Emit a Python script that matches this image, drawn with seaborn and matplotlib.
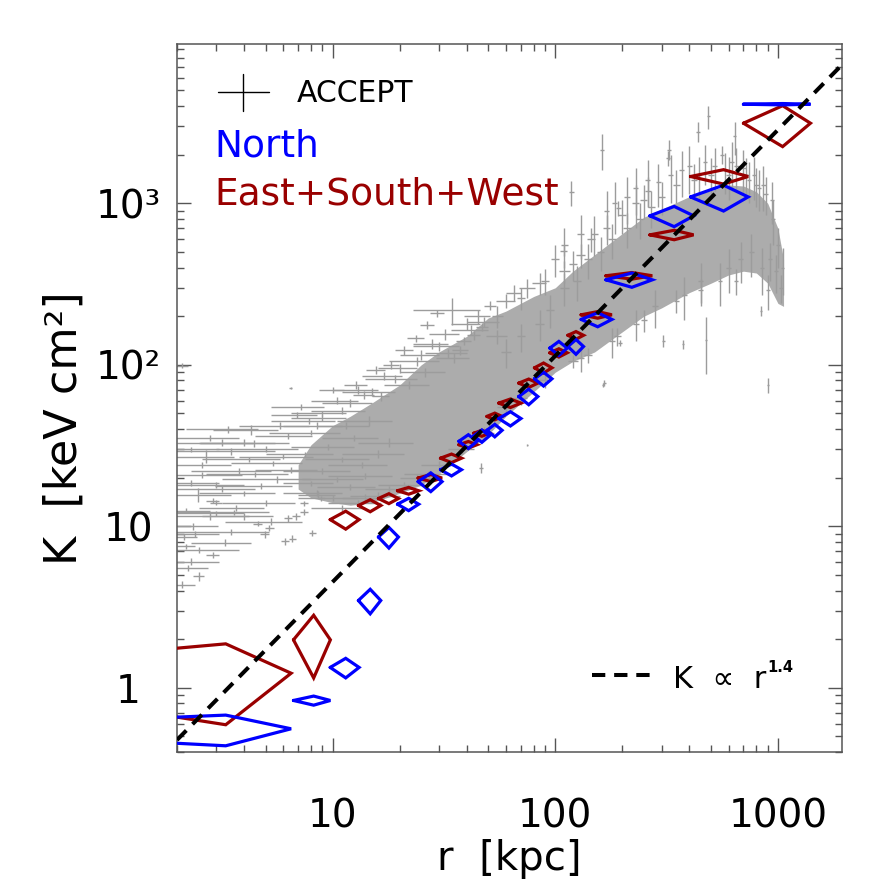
import numpy as np
import pandas as pd
import matplotlib
matplotlib.use("Agg")
import matplotlib.pyplot as plt
import seaborn as sns
from matplotlib.lines import Line2D

# ---------------- data ----------------
# radial bins shared by the two sectors (centre and half width, kpc)
bin_r = [3.31, 8.22, 11.45, 14.75, 17.9, 21.95, 27.6, 34.2, 40.7, 46.8, 53.5,
         62.9, 76.0, 88.6, 103.8, 123.9, 155.1, 220.8, 342, 570, 1050]
bin_dr = [3.2, 1.55, 1.7, 1.7, 1.85, 2.4, 3.4, 3.7, 3.8, 3.8, 4.2,
          7.2, 7.5, 8.0, 9.3, 10.0, 24.5, 52, 76, 165, 350]

north_K = [0.557, 0.834, 1.336, 3.47, 8.58, 13.7, 18.9, 22.4, 33.6, 36.3, 39.3,
           46.5, 63.6, 81.9, 126.9, 129.8, 191, 336, 837, 1096, 4110]
north_dK = [0.12, 0.054, 0.185, 0.6, 1.25, 1.2, 2.5, 1.9, 3.3, 3.2, 3.5,
            4.7, 7.0, 8.0, 12.7, 13.6, 19, 34, 120, 200, 40]

esw_K = [1.23, 1.98, 11.0, 13.45, 14.86, 16.6, 19.9, 26.4, 32.0, 37.7, 47.9,
         57.9, 77.0, 95.8, 118.7, 152.3, 204, 356, 638, 1466, 3135]
esw_dK = [0.64, 0.83, 1.4, 1.15, 1.05, 0.8, 1.0, 1.6, 1.5, 1.6, 2.3,
          3.5, 4.6, 6.8, 7.0, 8.3, 9.6, 16.7, 43, 150, 890]

# ACCEPT sample: dense core (envelope) ...
core_r = [7, 8, 10, 12, 15, 20, 25, 30, 40, 50, 60, 80, 100, 120, 150, 200, 250,
          300, 400, 500, 600, 700, 800, 900, 1000, 1060]
core_lo = [17, 15, 14, 13.5, 14, 16, 18, 21, 29, 37, 48, 68, 90, 105, 120, 160, 200,
           225, 280, 320, 360, 380, 370, 320, 240, 230]
core_hi = [24, 32, 42, 48, 58, 75, 100, 120, 150, 195, 215, 265, 300, 380, 480, 650, 820,
           920, 1100, 1200, 1300, 1280, 1180, 1000, 700, 450]

# ... and individual profile points with their error bars
acc_r = [2.1, 10.0, 7.2, 6.9, 4.3, 6.3, 4.45, 3.5, 2.7, 5.4, 6.5, 2.6, 5.6, 4.75, 2.48,
         8.6, 2.9, 3.0, 3.7, 3.6, 2.8, 5.3, 2.35, 3.5, 2.15, 3.3, 2.5, 2.9, 2.3, 2.25,
         2.5, 2.1, 6.3, 6.85, 7.45, 8.1, 6.6, 6.1, 5.2, 4.95, 4.6, 8.9, 7.45, 2.2,
         9.0, 11.5, 8.0, 12.5, 9.5, 7.5, 11.0, 13.5, 9.0, 10.5, 12.0, 8.0, 14.0, 16.0,
         18.0, 14.5, 3.8, 4.2, 3.2, 5.0, 2.3, 2.2,
         15.6, 18.3, 21.0, 23.6, 12.8, 13.9, 16.5, 6.5, 34.5, 29.5, 26.6, 51, 46.9, 43,
         38.8, 37.5,
         162, 325, 438, 487, 320, 118, 109, 192,
         476, 305, 375, 195, 900, 840, 166, 46.6, 75, 164,
         60, 70, 85, 95, 110, 125, 140, 160, 180, 210, 240, 270, 300, 350, 420, 500,
         580, 650, 720, 800, 880, 950, 1000, 1050, 1030, 980, 920, 850, 760, 680, 600,
         550, 450, 380, 280, 230, 180, 130,
         70, 90, 120, 55, 100, 150, 230, 260, 640, 560,
         10.5, 13, 17, 20, 25, 28, 32, 40, 45, 60, 65, 75, 85, 110, 130, 145, 170, 200,
         250, 22, 35, 55,
         11, 14, 18, 24, 30, 38, 48, 60, 70, 90, 120, 140, 190, 250, 350, 450, 650, 900,
         2.3, 2.8, 3.4, 4.0, 5.8, 7.8,
         9, 12, 15, 19, 24, 30, 42, 8.5, 11, 26, 33, 48,
         8.5, 10, 13, 16, 21, 27,
         170, 185, 210, 230, 260, 290, 330, 370, 400, 440, 470, 520, 600, 620, 700, 740,
         780, 820, 860, 940, 130, 110,
         3.0, 4.0, 2.6, 3.2, 5.0, 6.0, 4.5, 3.0, 2.4, 4.0]
acc_K = [99, 70, 55, 49, 39.6, 36.3, 32.6, 29.2, 27, 24.5, 22.3, 20.8, 19.6, 17.7, 15.7,
         15.7, 14.4, 14.0, 13.0, 12.2, 11.5, 10.7, 10.0, 9.27, 8.6, 7.9, 7.1, 6.65, 6.05, 5.5,
         4.9, 4.35, 11.2, 11.5, 12.3, 9.1, 8.4, 8.05, 9.8, 8.9, 10.4, 14.9, 13.9, 7.5,
         47, 42, 38, 35, 31, 28, 26, 24, 22, 19.5, 17.5, 18.5, 20.5, 28,
         33, 45, 22, 26, 17, 14, 18.5, 12.5,
         93, 100, 123, 146, 75, 65, 64, 72, 219, 209, 177, 232, 172, 153,
         140, 123,
         2150, 2150, 2785, 3450, 1900, 1170, 510, 940,
         143, 141, 134, 137, 75, 215, 77, 23, 32, 75,
         120, 150, 180, 220, 300, 330, 450, 500, 600, 700, 800, 950, 1100, 1300, 1400, 1500,
         1600, 1700, 1500, 1300, 1150, 800, 550, 400, 300, 380, 450, 400, 500, 450, 400,
         330, 330, 270, 230, 180, 140, 110,
         260, 330, 420, 200, 450, 650, 1000, 1200, 2600, 2000,
         60, 70, 85, 95, 115, 135, 155, 180, 200, 250, 280, 300, 320, 380, 480, 600, 700, 850,
         1050, 75, 110, 150,
         13, 15, 17, 20, 24, 30, 38, 55, 62, 80, 105, 115, 150, 190, 250, 290, 330, 290,
         30, 35, 40, 33, 42, 45,
         50, 58, 68, 82, 105, 130, 165, 42, 52, 90, 118, 185,
         16, 15, 14, 15.5, 18, 21,
         900, 1000, 1100, 1250, 1400, 1350, 1500, 1600, 1700, 1500, 1800, 1700, 1500, 1800,
         1650, 1400, 1500, 1250, 1300, 1050, 650, 550,
         18, 16, 24, 33, 30, 27, 21, 12, 9, 11.5]
acc_dr = [0.15, 1.3, 1.9, 1.6, 1.4, 1.8, 1.9, 2.0, 0.9, 1.9, 2.0, 1.3, 2.4, 1.8, 1.0,
          1.6, 0.2, 0.2, 1.2, 1.6, 1.4, 2.0, 0.7, 1.7, 0.3, 1.0, 1.3, 0.2, 0.8, 0.5,
          0.15, 0.3, 0.25, 0.25, 0.3, 0.3, 0.25, 0.25, 0.25, 0.25, 0.2, 0.3, 0.3, 0.2,
          2.5, 3.0, 2.8, 3.5, 3.0, 2.5, 3.5, 4.0, 3.0, 3.2, 3.5, 2.0, 4.5, 5.0,
          5.0, 4.0, 1.5, 1.6, 1.3, 1.8, 0.8, 0.6,
          1.5, 1.5, 2, 2, 1.5, 1.5, 1.5, 0.1, 11.5, 2, 2, 3, 3, 3,
          3, 3,
          4, 6, 8, 8, 6, 3, 4, 5,
          6, 5, 5, 4, 8, 8, 3, 1, 0.5, 2,
          3, 3, 4, 4, 5, 5, 6, 6, 7, 8, 9, 10, 10, 12, 12, 15,
          15, 18, 18, 20, 20, 20, 20, 20, 20, 20, 20, 20, 18, 15, 15,
          12, 12, 10, 8, 7, 6, 5,
          3, 4, 5, 3, 4, 6, 8, 8, 10, 10,
          2.5, 3, 3.5, 4, 5, 5, 5, 6, 6, 6, 5, 6, 6, 6, 6, 6, 7, 8,
          9, 5, 6, 6,
          3, 3, 4, 4, 5, 5, 5, 5, 5, 6, 6, 6, 7, 8, 10, 12, 15, 20,
          0.8, 1.0, 1.2, 1.5, 2.0, 2.5,
          2.5, 3, 4, 5, 6, 7, 8, 2.5, 3, 6, 7, 8,
          2.5, 3, 3.5, 4, 5, 6,
          5, 5, 6, 6, 7, 7, 8, 9, 10, 10, 10, 12, 14, 14, 16, 16,
          18, 18, 20, 20, 5, 4,
          1.0, 1.5, 0.9, 1.2, 2.0, 2.2, 1.8, 1.0, 0.7, 1.4]
acc_dK = [4, 3, 2.5, 2, 3, 1.5, 1.5, 1.5, 2.5, 1, 1, 1, 1, 0.8, 1.5,
          0.8, 0.5, 0.5, 0.6, 0.5, 0.5, 0.5, 0.5, 0.4, 0.4, 0.4, 0.3, 0.3, 0.3, 0.25,
          0.3, 0.2, 0.5, 0.5, 0.5, 0.4, 0.4, 0.4, 0.4, 0.4, 0.4, 0.6, 0.5, 0.3,
          2, 2, 1.5, 1.5, 1.2, 1, 1, 1, 0.8, 0.8, 0.7, 0.7, 0.8, 1.5,
          2, 3, 0.8, 1, 0.7, 0.6, 0.8, 0.5,
          5, 6, 8, 8, 4, 4, 4, 1, 42, 10, 10, 15, 10, 10,
          8, 8,
          550, 300, 400, 550, 200, 210, 40, 100,
          55, 12, 8, 6, 8, 15, 3, 1.5, 0.5, 2,
          25, 30, 40, 50, 70, 80, 110, 120, 150, 170, 200, 250, 250, 300, 350, 400,
          450, 500, 400, 350, 300, 250, 150, 130, 60, 100, 120, 130, 150, 130, 120,
          100, 100, 80, 60, 40, 30, 20,
          40, 60, 90, 30, 100, 180, 300, 250, 600, 250,
          3, 4, 5, 6, 8, 10, 12, 15, 20, 25, 30, 40, 50, 60, 80, 100, 150, 200,
          250, 4, 8, 15,
          0.6, 0.8, 0.8, 1, 1.5, 2, 3, 5, 6, 8, 10, 12, 20, 30, 40, 50, 60, 70,
          1, 1.5, 2, 1.5, 2, 2,
          2, 3, 4, 5, 6, 8, 12, 2, 2.5, 6, 8, 14,
          0.7, 0.6, 0.6, 0.7, 0.8, 1,
          300, 350, 350, 400, 450, 400, 500, 500, 550, 450, 500, 500, 450, 600, 500, 400,
          450, 350, 400, 300, 200, 150,
          0.7, 0.6, 1, 1.5, 1.2, 1.0, 0.8, 0.5, 0.4, 0.5]

# power-law guide K ∝ r^1.4
fit_r = [2.0, 2000.0]
fit_norm = 0.18
fit_slope = 1.4

# ---------------- style ----------------
sns.set_style("ticks")
plt.rcParams['font.family'] = ['DejaVu Sans']
plt.rcParams['mathtext.fontset'] = 'dejavusans'
plt.rcParams['text.color'] = 'black'
plt.rcParams['axes.labelcolor'] = 'black'

GRAY = '#9c9c9c'
BLUE = '#0000ff'
RED = '#990000'
AXC = '#555555'

fig = plt.figure(figsize=(8.86, 8.86), dpi=100)
ax = fig.add_axes([177 / 886, 134 / 886, 665 / 886, 708 / 886])
ax.set_xscale('log')
ax.set_yscale('log')

# ACCEPT dense core
ax.fill_between(core_r, core_lo, core_hi, color='#acacac', lw=0, zorder=1)
# ACCEPT individual points
ax.errorbar(acc_r, acc_K, xerr=acc_dr, yerr=acc_dK, fmt='none',
            ecolor=GRAY, elinewidth=1.0, capsize=0, zorder=2)


def diamonds(r, dr, K, dK, color):
    for ri, dri, ki, dki in zip(r, dr, K, dK):
        xs = [ri - dri, ri, ri + dri, ri, ri - dri]
        ys = [ki, ki + dki, ki, ki - dki, ki]
        ax.plot(xs, ys, color=color, lw=2.3, solid_joinstyle='miter', zorder=4)


diamonds(bin_r, bin_dr, esw_K, esw_dK, RED)
diamonds(bin_r, bin_dr, north_K, north_dK, BLUE)

fit_df = pd.DataFrame({'r': fit_r})
fit_df['K'] = fit_norm * fit_df['r'] ** fit_slope
sns.lineplot(data=fit_df, x='r', y='K', ax=ax, color='black', lw=2.9,
             ls=(0, (3.3, 2.2)), zorder=6)

ax.set_xlim(2.0, 1940)
ax.set_ylim(0.4, 9700)

# ticks
ax.set_xticks([10, 100, 1000])
ax.set_xticklabels(['10', '100', '1000'])
ax.set_yticks([1, 10, 100, 1000])
ax.set_yticklabels(['1', '10', '10²', '10³'])
ax.tick_params(which='both', direction='in', top=True, right=True, color=AXC, width=1.0,
               labelcolor='black')
ax.tick_params(which='major', length=10)
ax.tick_params(which='minor', length=5)
ax.tick_params(axis='x', which='major', labelsize=28, pad=33)
ax.tick_params(axis='y', which='major', labelsize=28, pad=35)
for lab in ax.get_yticklabels():
    lab.set_ha('center')
for s in ax.spines.values():
    s.set_color(AXC)
    s.set_linewidth(1.1)

ax.set_xlabel('r  [kpc]', fontsize=29, color='black')
ax.set_ylabel('K  [keV cm²]', fontsize=32, color='black')
ax.xaxis.set_label_coords(0.5, -0.1235)
ax.xaxis.label.set_va('top')
ax.yaxis.set_label_coords(-0.138, 0.4576)

# top-left legend
ax.add_line(Line2D([0.0621, 0.1383], [0.9322, 0.9322], transform=ax.transAxes,
                   color='black', lw=1.0))
ax.add_line(Line2D([0.0997, 0.0997], [0.9058, 0.9572], transform=ax.transAxes,
                   color='black', lw=1.0))
ax.text(0.180, 0.9185, 'ACCEPT', transform=ax.transAxes, fontsize=21.5,
        color='black', va='baseline', ha='left')
ax.text(0.056, 0.8408, 'North', transform=ax.transAxes, fontsize=27,
        color=BLUE, va='baseline', ha='left')
ax.text(0.056, 0.7726, 'East+South+West', transform=ax.transAxes, fontsize=27,
        color=RED, va='baseline', ha='left')

# bottom-right legend for the guide line
ax.add_line(Line2D([0.6236, 0.7138], [0.1088, 0.1088], transform=ax.transAxes,
                   color='black', lw=2.9, ls=(0, (3.3, 2.2))))
t = ax.text(0.746, 0.0903, 'K  ∝  r', transform=ax.transAxes, fontsize=22,
            color='black', va='baseline', ha='left')
fig.canvas.draw()
bb = t.get_window_extent()
inv = ax.transAxes.inverted()
x1, _ = inv.transform((bb.x1, bb.y0))
ax.text(x1 + 0.002, 0.1130, '1.4', transform=ax.transAxes, fontsize=10.5,
        fontweight='bold', color='black', va='baseline', ha='left')

fig.savefig('out.png', dpi=100)
